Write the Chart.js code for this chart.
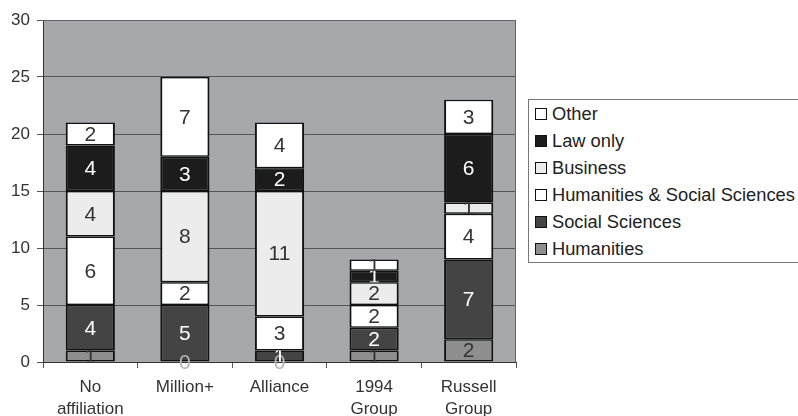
<!DOCTYPE html>
<html>
<head>
<meta charset="utf-8">
<script src="https://cdn.jsdelivr.net/npm/chart.js@4"></script>
<style>
  html,body{margin:0;padding:0;background:#fff;overflow:hidden}
  #wrap{position:relative;width:798px;height:416px}
  #legend{position:absolute;left:528px;top:99px;width:280px;border:1px solid #777;background:#fff;
    font-family:"Liberation Sans",Arial,sans-serif;font-size:18.3px;color:#222;box-sizing:border-box;padding:0 0 0 6px}
  .lg-item{display:flex;align-items:center;height:27px;white-space:nowrap}
  .lg-box{width:10px;height:10px;border:1px solid #111;margin-right:5px;flex:none}
</style>
</head>
<body>
<div id="wrap">
  <canvas id="c" width="798" height="416"></canvas>
  <div id="legend"></div>
</div>
<script>
// categories + series (bottom -> top of the stack)
const CATS=[['No','affiliation'],'Million+','Alliance',['1994','Group'],['Russell','Group']];
const HUMANITIES=[1,0,0,1,2];
const SOCIAL_SCI=[4,5,1,2,7];
const HUM_SOC=[6,2,3,2,4];
const BUSINESS=[4,8,11,2,1];
const LAW_ONLY=[4,3,2,1,6];
const OTHER=[2,7,4,1,3];
const Y_TICKS=[0,5,10,15,20,25,30];

const FONT='"Liberation Sans", Arial, sans-serif';
const series=[
  {label:'Humanities',data:HUMANITIES,color:'#8e8e8e',txt:'#333'},
  {label:'Social Sciences',data:SOCIAL_SCI,color:'#444444',txt:'#fff'},
  {label:'Humanities & Social Sciences',data:HUM_SOC,color:'#ffffff',txt:'#333'},
  {label:'Business',data:BUSINESS,color:'#ececec',txt:'#333'},
  {label:'Law only',data:LAW_ONLY,color:'#1c1c1c',txt:'#fff'},
  {label:'Other',data:OTHER,color:'#ffffff',txt:'#333'}
];

// plot background + frame
const plotBg={id:'plotBg',
  beforeDraw(ch){const a=ch.chartArea,x=ch.ctx;x.save();x.fillStyle='#a6a8aa';x.fillRect(a.left,a.top,a.right-a.left,a.bottom-a.top);x.restore();},
  afterDatasetsDraw(ch){const a=ch.chartArea,x=ch.ctx;x.save();x.strokeStyle='#666';x.lineWidth=1;
    x.beginPath();x.moveTo(a.left,a.top+0.5);x.lineTo(a.right-0.5,a.top+0.5);x.lineTo(a.right-0.5,a.bottom);x.stroke();x.restore();}
};
// value labels, clipped to their segment
const segLabels={id:'segLabels',
  afterDatasetsDraw(ch){
    const x=ch.ctx;
    ch.data.datasets.forEach((ds,di)=>{
      ch.getDatasetMeta(di).data.forEach((bar,i)=>{
        const v=ds.data[i];
        const top=Math.min(bar.y,bar.base),h=Math.abs(bar.base-bar.y);
        x.save();
        x.font='21px '+FONT;x.textAlign='center';x.textBaseline='middle';
        if(v===0){x.fillStyle='#b5b5b5';}
        else{x.beginPath();x.rect(bar.x-bar.width/2,top,bar.width,h);x.clip();x.fillStyle=series[di].txt;}
        x.fillText(String(v),bar.x,top+h/2+1);
        x.restore();
      });
    });
  }
};

const chart=new Chart(document.getElementById('c'),{
  type:'bar',
  data:{labels:CATS,datasets:series.map(s=>({label:s.label,data:s.data,backgroundColor:s.color,
    borderColor:'#111',borderWidth:{top:1.5,bottom:1.5,left:2,right:2},borderSkipped:false,
    categoryPercentage:1,barPercentage:0.52}))},
  options:{
    responsive:false,animation:false,
    layout:{padding:{top:20,right:282,bottom:0,left:0}},
    plugins:{legend:{display:false},tooltip:{enabled:false}},
    scales:{
      x:{stacked:true,
        grid:{offset:true,drawOnChartArea:false,tickLength:6,color:'#555'},
        border:{color:'#333',width:1},
        ticks:{color:'#333',font:{family:FONT,size:17,lineHeight:1.25},padding:9,maxRotation:0,autoSkip:false},
        afterFit(s){s.height=54;}},
      y:{stacked:true,min:0,max:30,
        afterBuildTicks(s){s.ticks=Y_TICKS.map(v=>({value:v}));},
        grid:{color:'#555',tickLength:6},
        border:{color:'#333',width:1},
        ticks:{color:'#333',font:{family:FONT,size:17},padding:7},
        afterFit(s){s.width=43;}}
    }
  },
  plugins:[plotBg,segLabels]
});

// legend box (reverse order, like the figure)
document.getElementById('legend').innerHTML=chart.data.datasets.slice().reverse().map(d=>
  `<div class="lg-item"><span class="lg-box" style="background:${d.backgroundColor}"></span>${d.label}</div>`).join('');
</script>
</body>
</html>
